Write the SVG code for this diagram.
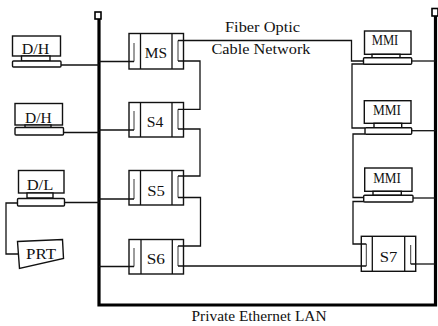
<svg xmlns="http://www.w3.org/2000/svg" width="438" height="326" viewBox="0 0 438 326">
<style>
.ln{stroke:#111;stroke-width:1.3;fill:none}
.box{fill:#fff;stroke:#111;stroke-width:1.4}
.tk{stroke:#222;stroke-width:0.9;fill:none}
.bus{stroke:#000;stroke-width:3.2;fill:none}
.term{fill:#fff;stroke:#000;stroke-width:1.6}
.t{font-family:"Liberation Serif","Times New Roman",serif;fill:#111;text-anchor:middle;font-size:15px}
</style>
<rect width="438" height="326" fill="#fff"/>

<g id="lan">
  <path class="bus" d="M99 19 V305 H435.5 V16"/>
  <rect class="term" x="95" y="12" width="6" height="7"/>
  <rect class="term" x="432" y="8.5" width="6" height="7.5"/>
  <text class="t" x="259" y="321" textLength="135" lengthAdjust="spacingAndGlyphs">Private Ethernet LAN</text>
</g>

<g id="connectors">
  <!-- terminals to left bus -->
  <path class="ln" d="M61 65 H99"/>
  <path class="ln" d="M63.5 132.5 H99"/>
  <path class="ln" d="M64.5 202.5 H99"/>
  <!-- left bus to switches -->
  <path class="ln" d="M99 61.5 H134"/>
  <path class="ln" d="M99 130 H134"/>
  <path class="ln" d="M99 199 H134"/>
  <path class="ln" d="M99 266.5 H134"/>
  <!-- fiber ring between switches -->
  <path class="ln" d="M178 61 H200 V109.3 H178"/>
  <path class="ln" d="M178 129 H200 V176 H178"/>
  <path class="ln" d="M178 197.5 H200.5 V246 H178"/>
  <path class="ln" d="M178 266 H366.3"/>
  <!-- fiber to MMIs -->
  <path class="ln" d="M178 40.5 H351.5 V61 H364"/>
  <path class="ln" d="M364 64 H352 V128 H365"/>
  <path class="ln" d="M365 134 H353 V197.5 H364"/>
  <path class="ln" d="M364 201.5 H353 V244 H366.3"/>
  <!-- MMIs and S7 to right bus -->
  <path class="ln" d="M411.7 61 H435.5"/>
  <path class="ln" d="M411.7 130.7 H435.5"/>
  <path class="ln" d="M413 198 H435.5"/>
  <path class="ln" d="M410.7 264 H435.5"/>
  <!-- D/L to printer -->
  <path class="ln" d="M17.5 203 H6 V254 H18.3"/>
</g>

<g id="dh1">
  <rect class="box" x="12.5" y="36" width="48" height="20"/>
  <rect class="box" x="21.5" y="56" width="28.5" height="5"/>
  <rect class="box" x="12.5" y="61" width="48.5" height="6" rx="1"/>
  <text class="t" x="35.5" y="54" font-size="16" textLength="27.5" lengthAdjust="spacingAndGlyphs">D/H</text>
</g>
<g id="dh2">
  <rect class="box" x="15" y="103.5" width="47.5" height="21.5"/>
  <rect class="box" x="25" y="125" width="26" height="2.5"/>
  <rect class="box" x="15" y="127.5" width="48.5" height="7.5" rx="1"/>
  <text class="t" x="38.3" y="122.7" font-size="16" textLength="26.7" lengthAdjust="spacingAndGlyphs">D/H</text>
</g>
<g id="dl">
  <rect class="box" x="18.5" y="170.5" width="45.5" height="22.5"/>
  <rect class="box" x="27" y="193" width="26" height="5"/>
  <rect class="box" x="17.5" y="198.5" width="47" height="7.5" rx="1"/>
  <text class="t" x="40" y="190.3" font-size="16" textLength="26.6" lengthAdjust="spacingAndGlyphs">D/L</text>
</g>
<g id="prt">
  <polygon class="box" points="17.5,241.5 62.5,239.5 63.5,258.5 19.5,268.5"/>
  <text class="t" x="41" y="259" textLength="30" lengthAdjust="spacingAndGlyphs">PRT</text>
</g>

<g id="ms">
  <rect class="box" x="129" y="33.5" width="54.5" height="35.5"/>
  <path class="ln" d="M140.5 33.5 V69 M172 33.5 V69"/>
  <path class="tk" d="M134 43 V61.5 M178 40.5 V61"/>
  <path class="ln" d="M129 61.5 H134 M178 40.5 H183.5 M178 61 H183.5"/>
  <text class="t" x="156" y="58.3" textLength="22.3" lengthAdjust="spacingAndGlyphs">MS</text>
</g>
<g id="s4">
  <rect class="box" x="129" y="102.5" width="54.5" height="34.5"/>
  <path class="ln" d="M140.5 102.5 V137 M172 102.5 V137"/>
  <path class="tk" d="M134 111 V130 M178 109.3 V129"/>
  <path class="ln" d="M129 130 H134 M178 109.3 H183.5 M178 129 H183.5"/>
  <text class="t" x="155" y="126.7" textLength="16.6" lengthAdjust="spacingAndGlyphs">S4</text>
</g>
<g id="s5">
  <rect class="box" x="129" y="170.5" width="54.5" height="34.5"/>
  <path class="ln" d="M140.5 170.5 V205 M172 170.5 V205"/>
  <path class="tk" d="M134 179 V199 M178 176 V197.5"/>
  <path class="ln" d="M129 199 H134 M178 176 H183.5 M178 197.5 H183.5"/>
  <text class="t" x="156" y="196" textLength="17.7" lengthAdjust="spacingAndGlyphs">S5</text>
</g>
<g id="s6">
  <rect class="box" x="129" y="239.5" width="54.5" height="34.5"/>
  <path class="ln" d="M141 239.5 V274 M172.3 239.5 V274"/>
  <path class="tk" d="M134 248 V266.5 M178 246 V266"/>
  <path class="ln" d="M129 266.5 H134 M178 246 H183.5 M178 266 H183.5"/>
  <text class="t" x="155.8" y="264" textLength="18.3" lengthAdjust="spacingAndGlyphs">S6</text>
</g>
<g id="s7">
  <rect class="box" x="361.3" y="236.3" width="54.4" height="35"/>
  <path class="ln" d="M372.3 236.3 V271.3 M404.7 236.3 V271.3"/>
  <path class="tk" d="M366.3 244 V266 M410.7 245 V264"/>
  <path class="ln" d="M361.3 244 H366.3 M361.3 266 H366.3 M410.7 264 H415.7"/>
  <text class="t" x="388.5" y="261.5" textLength="17.6" lengthAdjust="spacingAndGlyphs">S7</text>
</g>

<g id="mmi1">
  <rect class="box" x="364.5" y="31" width="46.5" height="23.3"/>
  <rect class="box" x="372" y="54.3" width="28" height="3.4"/>
  <rect class="box" x="363.5" y="57.7" width="48.2" height="6.6" rx="1"/>
  <text class="t" x="385" y="45" font-size="12.5" textLength="26.6" lengthAdjust="spacingAndGlyphs">MMI</text>
</g>
<g id="mmi2">
  <rect class="box" x="364.3" y="100.7" width="46.7" height="22.6"/>
  <rect class="box" x="374" y="123.3" width="27.7" height="4.4"/>
  <rect class="box" x="365" y="127.7" width="46.7" height="6.6" rx="1"/>
  <text class="t" x="387" y="115" font-size="12.5" textLength="28" lengthAdjust="spacingAndGlyphs">MMI</text>
</g>
<g id="mmi3">
  <rect class="box" x="364.7" y="168" width="47.3" height="23.3"/>
  <rect class="box" x="373" y="191.3" width="28.3" height="4"/>
  <rect class="box" x="363.7" y="195.3" width="49.3" height="6.7" rx="1"/>
  <text class="t" x="387" y="183" font-size="12.5" textLength="27.7" lengthAdjust="spacingAndGlyphs">MMI</text>
</g>

<g id="fiber-label">
  <text class="t" x="262.5" y="32.3" textLength="75" lengthAdjust="spacingAndGlyphs">Fiber Optic</text>
  <text class="t" x="261" y="54.3" textLength="99" lengthAdjust="spacingAndGlyphs">Cable Network</text>
</g>
</svg>
